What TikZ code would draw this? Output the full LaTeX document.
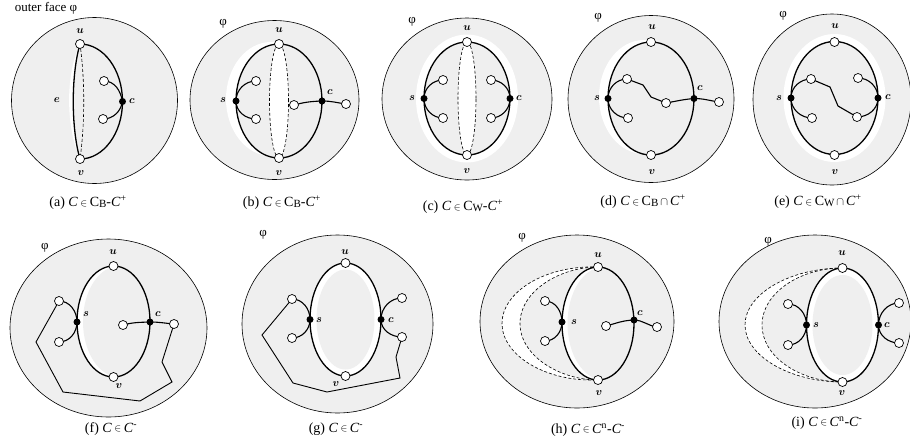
\documentclass[tikz,border=0pt]{standalone}
\usepackage{fontspec}
\setmainfont{Liberation Serif}
\usepackage{bm}
\definecolor{facegray}{RGB}{239,239,239}
\pgfdeclarelayer{bg}\pgfdeclarelayer{mid}\pgfsetlayers{bg,mid,main}
\newcommand{\elm}{\hspace{2.5pt}\raisebox{0.8pt}{\scalebox{0.72}{$\in$}}\hspace{2.5pt}}
\newcommand{\ecap}{\hspace{2pt}\raisebox{0.3pt}{\scalebox{0.8}{$\cap$}}\hspace{2pt}}
\newcommand{\sB}[1]{{\fontsize{11}{12}\selectfont\raisebox{-1pt}{#1}}}
\begin{document}
\begin{tikzpicture}[x=1pt,y=1pt,
 face/.style={draw=black,line width=0.6pt,fill=facegray},
 cyc/.style={draw=black,line width=1.3pt},
 edg/.style={draw=black,line width=1.1pt},
 walk/.style={draw=black,line width=0.9pt,line join=miter},
 dsh/.style={draw=black,line width=0.6pt,dash pattern=on 3pt off 2pt},
 wv/.style={circle,draw=black,fill=white,line width=0.7pt,inner sep=0pt,minimum size=9pt},
 bv/.style={circle,fill=black,inner sep=0pt,minimum size=7pt},
 lbl/.style={inner sep=0pt,font=\fontsize{10.5}{12}\selectfont},
 captxt/.style={inner sep=0pt,font=\fontsize{14}{16}\selectfont},
 phil/.style={inner sep=0pt,font=\fontsize{13}{15}\selectfont}]
\useasboundingbox (0,0) rectangle (910,-445);

\node[phil] (title) at (46,-8) {outer face φ};

% ================= (a)
\coordinate (a-o) at (94.5,-100.5);
\node[wv] (a-u) at (80,-44) {};
\node[wv] (a-v) at (80,-159) {};
\node[bv] (a-c) at (122.5,-101.5) {};
\node[wv] (a-p1) at (104,-81) {};
\node[wv] (a-p2) at (103,-119) {};
\node[lbl] (a-ul) at (80,-31) {$\bm{u}$};
\node[lbl] (a-vl) at (81,-173) {$\bm{v}$};
\node[lbl] (a-el) at (57,-100) {$\bm{e}$};
\node[lbl] (a-cl) at (132,-101) {$\bm{c}$};
\node[captxt] (a-cap) at (88,-203) {(a) \textit{C}\elm C\sB{B}-\textit{C}\textsuperscript{+}};
\begin{pgfonlayer}{bg}
 \draw[face] (a-o) circle[radius=83];
 \fill[white] (a-u.center) .. controls (65,-75) and (66,-128) .. (a-v.center) .. controls (71,-128) and (71,-75) .. cycle;
\end{pgfonlayer}
\begin{pgfonlayer}{mid}
 \draw[cyc] (a-u.center) arc[start angle=90,end angle=-90,x radius=42.5,y radius=57.5];
 \draw[cyc] (a-u.center) .. controls (71,-75) and (71,-128) .. (a-v.center);
 \draw[dsh] (a-u.center) .. controls (85,-80) and (85,-123) .. (a-v.center);
 \draw[edg] (a-c.center) to[out=100,in=0] (a-p1.center);
 \draw[edg] (a-c.center) to[out=-100,in=0] (a-p2.center);
\end{pgfonlayer}

% ================= (b)
\coordinate (b-o) at (274.5,-100);
\coordinate (b-i) at (279,-101);
\node[wv] (b-u) at (279,-44) {};
\node[wv] (b-v) at (279,-158) {};
\node[bv] (b-s) at (236,-101) {};
\node[bv] (b-c) at (322,-101) {};
\node[wv] (b-s1) at (256,-81) {};
\node[wv] (b-s2) at (256,-119) {};
\node[wv] (b-c1) at (294,-105) {};
\node[wv] (b-c2) at (346,-104) {};
\node[phil] (b-phi) at (223,-24) {φ};
\node[lbl] (b-ul) at (279,-30) {$\bm{u}$};
\node[lbl] (b-vl) at (279,-173) {$\bm{v}$};
\node[lbl] (b-sl) at (223,-100) {$\bm{s}$};
\node[lbl] (b-cl) at (330,-92) {$\bm{c}$};
\node[captxt] (b-cap) at (282,-203) {(b) \textit{C}\elm C\sB{B}-\textit{C}\textsuperscript{+}};
\begin{pgfonlayer}{bg}
 \draw[face] (b-o) ellipse[x radius=84.5,y radius=79.5];
 \fill[white] (271,-99) ellipse[x radius=45,y radius=57];
 \fill[facegray] (b-i) ellipse[x radius=43,y radius=57];
 \fill[white] (b-i) ellipse[x radius=9.5,y radius=57];
\end{pgfonlayer}
\begin{pgfonlayer}{mid}
 \draw[dsh] (b-i) ellipse[x radius=9.5,y radius=57];
 \draw[cyc] (b-i) ellipse[x radius=43,y radius=57];
 \draw[edg] (b-s.center) to[out=90,in=180] (b-s1.center);
 \draw[edg] (b-s.center) to[out=-90,in=180] (b-s2.center);
 \draw[edg] (b-c1.center) to[out=15,in=182] (b-c.center);
 \draw[edg] (b-c.center) to[out=0,in=172] (b-c2.center);
\end{pgfonlayer}

% ================= (c)
\coordinate (c-o) at (467,-99);
\coordinate (c-i) at (467,-98.5);
\node[wv] (c-u) at (467,-42) {};
\node[wv] (c-v) at (467,-155) {};
\node[bv] (c-s) at (424,-98.5) {};
\node[bv] (c-c) at (510,-98.5) {};
\node[wv] (c-s1) at (443,-80) {};
\node[wv] (c-s2) at (443,-118) {};
\node[wv] (c-c1) at (491,-80) {};
\node[wv] (c-c2) at (491,-118) {};
\node[phil] (c-phi) at (412,-22) {φ};
\node[lbl] (c-ul) at (467,-28) {$\bm{u}$};
\node[lbl] (c-vl) at (467,-171) {$\bm{v}$};
\node[lbl] (c-sl) at (412,-98) {$\bm{s}$};
\node[lbl] (c-cl) at (519,-98) {$\bm{c}$};
\node[captxt] (c-cap) at (463,-207) {(c) \textit{C}\elm C\sB{W}-\textit{C}\textsuperscript{+}};
\begin{pgfonlayer}{bg}
 \draw[face] (c-o) ellipse[x radius=85,y radius=81];
 \fill[white] (c-i) ellipse[x radius=51,y radius=64];
 \fill[facegray] (c-i) ellipse[x radius=43,y radius=56.5];
 \fill[white] (c-i) ellipse[x radius=9,y radius=56.5];
\end{pgfonlayer}
\begin{pgfonlayer}{mid}
 \draw[dsh] (c-i) ellipse[x radius=9,y radius=56.5];
 \draw[cyc] (c-i) ellipse[x radius=43,y radius=56.5];
 \draw[edg] (c-s.center) to[out=90,in=180] (c-s1.center);
 \draw[edg] (c-s.center) to[out=-90,in=180] (c-s2.center);
 \draw[edg] (c-c.center) to[out=90,in=0] (c-c1.center);
 \draw[edg] (c-c.center) to[out=-90,in=0] (c-c2.center);
\end{pgfonlayer}

% ================= (d)
\coordinate (d-o) at (651,-99);
\coordinate (d-i) at (651,-98.5);
\node[wv] (d-u) at (651,-42) {};
\node[wv] (d-v) at (651,-155) {};
\node[bv] (d-s) at (608,-98.5) {};
\node[bv] (d-c) at (694,-98.5) {};
\node[wv] (d-s1) at (627,-79) {};
\node[wv] (d-s2) at (628,-118) {};
\node[wv] (d-m) at (666,-103) {};
\node[wv] (d-c2) at (719,-102) {};
\coordinate (d-w1) at (643,-85);
\coordinate (d-w2) at (651,-97);
\node[phil] (d-phi) at (598,-18) {φ};
\node[lbl] (d-ul) at (652,-27) {$\bm{u}$};
\node[lbl] (d-vl) at (652,-172) {$\bm{v}$};
\node[lbl] (d-sl) at (597,-98) {$\bm{s}$};
\node[lbl] (d-cl) at (700,-88) {$\bm{c}$};
\node[captxt] (d-cap) at (643,-202) {(d) \textit{C}\elm C\sB{B}\ecap\textit{C}\textsuperscript{+}};
\begin{pgfonlayer}{bg}
 \draw[face] (d-o) ellipse[x radius=83,y radius=83.5];
 \fill[white] (644,-97) ellipse[x radius=45,y radius=57];
 \fill[facegray] (d-i) ellipse[x radius=43,y radius=56.5];
\end{pgfonlayer}
\begin{pgfonlayer}{mid}
 \draw[cyc] (d-i) ellipse[x radius=43,y radius=56.5];
 \draw[edg] (d-s.center) to[out=90,in=180] (d-s1.center);
 \draw[edg] (d-s.center) to[out=-90,in=180] (d-s2.center);
 \draw[edg] (d-s1.center) -- (d-w1) -- (d-w2) -- (d-m.center);
 \draw[edg] (d-m.center) to[out=10,in=185] (d-c.center);
 \draw[edg] (d-c.center) to[out=0,in=172] (d-c2.center);
\end{pgfonlayer}

% ================= (e)
\coordinate (e-o) at (832,-99.5);
\coordinate (e-i) at (834.5,-98);
\node[wv] (e-u) at (834.5,-42) {};
\node[wv] (e-v) at (834.5,-155) {};
\node[bv] (e-s) at (791,-98) {};
\node[bv] (e-c) at (878,-98) {};
\node[wv] (e-s1) at (811,-79) {};
\node[wv] (e-s2) at (812,-118) {};
\node[wv] (e-c1) at (858,-78) {};
\node[wv] (e-c2) at (857,-117) {};
\coordinate (e-w1) at (830,-87);
\coordinate (e-w2) at (838,-106);
\node[phil] (e-phi) at (783,-16) {φ};
\node[lbl] (e-ul) at (835,-26) {$\bm{u}$};
\node[lbl] (e-vl) at (835,-172) {$\bm{v}$};
\node[lbl] (e-sl) at (779,-98) {$\bm{s}$};
\node[lbl] (e-cl) at (888,-97) {$\bm{c}$};
\node[captxt] (e-cap) at (818,-202) {(e) \textit{C}\elm C\sB{W}\ecap\textit{C}\textsuperscript{+}};
\begin{pgfonlayer}{bg}
 \draw[face] (e-o) ellipse[x radius=79,y radius=85.5];
 \fill[white] (e-i) ellipse[x radius=51,y radius=64];
 \fill[facegray] (e-i) ellipse[x radius=43.5,y radius=56.5];
\end{pgfonlayer}
\begin{pgfonlayer}{mid}
 \draw[cyc] (e-i) ellipse[x radius=43.5,y radius=56.5];
 \draw[edg] (e-s.center) to[out=90,in=180] (e-s1.center);
 \draw[edg] (e-s.center) to[out=-90,in=180] (e-s2.center);
 \draw[edg] (e-c.center) to[out=90,in=0] (e-c1.center);
 \draw[edg] (e-c.center) to[out=-90,in=0] (e-c2.center);
 \draw[edg] (e-s1.center) -- (e-w1) -- (e-w2) -- (e-c2.center);
\end{pgfonlayer}

% ================= (f)
\coordinate (f-o) at (108.5,-328);
\coordinate (f-i) at (113.5,-321.5);
\node[wv] (f-u) at (113.5,-266) {};
\node[wv] (f-v) at (113.5,-377) {};
\node[bv] (f-s) at (77,-322) {};
\node[bv] (f-c) at (150,-322) {};
\node[wv] (f-s1) at (59,-301) {};
\node[wv] (f-s2) at (59,-342) {};
\node[wv] (f-c1) at (123,-325) {};
\node[wv] (f-c2) at (174,-324) {};
\coordinate (f-w1) at (36,-342);
\coordinate (f-w2) at (63,-392);
\coordinate (f-w3) at (140,-401);
\coordinate (f-w4) at (172,-382);
\coordinate (f-w5) at (162,-362);
\node[phil] (f-phi) at (45,-248) {φ};
\node[lbl] (f-ul) at (113,-252) {$\bm{u}$};
\node[lbl] (f-vl) at (119,-386) {$\bm{v}$};
\node[lbl] (f-sl) at (86,-314) {$\bm{s}$};
\node[lbl] (f-cl) at (158,-314) {$\bm{c}$};
\node[captxt] (f-cap) at (111,-429) {(f) \textit{C}\elm\textit{C}\textsuperscript{-}};
\begin{pgfonlayer}{bg}
 \draw[face] (f-o) ellipse[x radius=98.5,y radius=89];
 \fill[white] (f-i) ellipse[x radius=36.5,y radius=55.5];
 \begin{scope}
  \clip (f-i) ellipse[x radius=36.5,y radius=55.5];
  \fill[facegray] (119,-321.5) ellipse[x radius=36,y radius=55.5];
 \end{scope}
\end{pgfonlayer}
\begin{pgfonlayer}{mid}
 \draw[cyc] (f-i) ellipse[x radius=36.5,y radius=55.5];
 \draw[edg] (f-s.center) to[out=90,in=0] (f-s1.center);
 \draw[edg] (f-s.center) to[out=-90,in=0] (f-s2.center);
 \draw[edg] (f-c1.center) to[out=15,in=182] (f-c.center);
 \draw[edg] (f-c.center) to[out=0,in=175] (f-c2.center);
 \draw[walk] (f-s1.center) -- (f-w1) -- (f-w2) -- (f-w3) -- (f-w4) -- (f-w5) -- (f-c2.center);
\end{pgfonlayer}

% ================= (g)
\coordinate (g-o) at (337.5,-324);
\coordinate (g-i) at (345.5,-319.5);
\node[wv] (g-u) at (345.5,-263) {};
\node[wv] (g-v) at (345.5,-376) {};
\node[bv] (g-s) at (310,-319.5) {};
\node[bv] (g-c) at (381,-319.5) {};
\node[wv] (g-s1) at (292,-299) {};
\node[wv] (g-s2) at (292,-338) {};
\node[wv] (g-c1) at (402,-298) {};
\node[wv] (g-c2) at (402,-337) {};
\coordinate (g-w1) at (262,-335);
\coordinate (g-w2) at (293,-383);
\coordinate (g-w3) at (327,-392);
\coordinate (g-w4) at (400,-378);
\coordinate (g-w5) at (396,-357);
\node[phil] (g-phi) at (263,-235) {φ};
\node[lbl] (g-ul) at (345,-252) {$\bm{u}$};
\node[lbl] (g-vl) at (336,-384) {$\bm{v}$};
\node[lbl] (g-sl) at (319,-320) {$\bm{s}$};
\node[lbl] (g-cl) at (391,-320) {$\bm{c}$};
\node[captxt] (g-cap) at (336,-429) {(g) \textit{C}\elm\textit{C}\textsuperscript{-}};
\begin{pgfonlayer}{bg}
 \draw[face] (g-o) ellipse[x radius=95.5,y radius=89];
 \fill[white] (g-i) ellipse[x radius=35.5,y radius=56.5];
 \fill[facegray] (g-i) ellipse[x radius=29,y radius=50];
\end{pgfonlayer}
\begin{pgfonlayer}{mid}
 \draw[cyc] (g-i) ellipse[x radius=35.5,y radius=56.5];
 \draw[edg] (g-s.center) to[out=90,in=0] (g-s1.center);
 \draw[edg] (g-s.center) to[out=-90,in=0] (g-s2.center);
 \draw[edg] (g-c.center) to[out=90,in=180] (g-c1.center);
 \draw[edg] (g-c.center) to[out=-90,in=180] (g-c2.center);
 \draw[walk] (g-s1.center) -- (g-w1) -- (g-w2) -- (g-w3) -- (g-w4) -- (g-w5) -- (g-c2.center);
\end{pgfonlayer}

% ================= (h)
\coordinate (h-o) at (577,-321.5);
\coordinate (h-i) at (598,-323.5);
\node[wv] (h-u) at (598,-267) {};
\node[wv] (h-v) at (598,-380) {};
\node[bv] (h-s) at (562,-322) {};
\node[bv] (h-c) at (634,-320) {};
\node[wv] (h-s1) at (545,-301) {};
\node[wv] (h-s2) at (545,-341) {};
\node[wv] (h-c1) at (606,-326) {};
\node[wv] (h-c2) at (657,-327) {};
\node[phil] (h-phi) at (522,-238) {φ};
\node[lbl] (h-ul) at (598,-255) {$\bm{u}$};
\node[lbl] (h-vl) at (599,-393) {$\bm{v}$};
\node[lbl] (h-sl) at (574,-322) {$\bm{s}$};
\node[lbl] (h-cl) at (640,-313) {$\bm{c}$};
\node[captxt] (h-cap) at (588,-430) {(h) \textit{C}\elm\textit{C}\textsuperscript{n}-\textit{C}\textsuperscript{-}};
\begin{pgfonlayer}{bg}
 \draw[face] (h-o) ellipse[x radius=97,y radius=86.5];
 \fill[white] (h-u.center) .. controls (545,-265) and (502,-292) .. (502,-323.5) .. controls (502,-355) and (545,-382) .. (h-v.center)
   .. controls (560,-380) and (520,-356) .. (520,-323.5) .. controls (520,-291) and (560,-267) .. cycle;
 \fill[white] (h-i) ellipse[x radius=36,y radius=56.5];
 \begin{scope}
  \clip (h-i) ellipse[x radius=36,y radius=56.5];
  \fill[facegray] (603.5,-323.5) ellipse[x radius=36,y radius=56.5];
 \end{scope}
\end{pgfonlayer}
\begin{pgfonlayer}{mid}
 \draw[dsh] (h-u.center) .. controls (545,-265) and (502,-292) .. (502,-323.5) .. controls (502,-355) and (545,-382) .. (h-v.center);
 \draw[dsh] (h-u.center) .. controls (560,-267) and (520,-291) .. (520,-323.5) .. controls (520,-356) and (560,-380) .. (h-v.center);
 \draw[cyc] (h-i) ellipse[x radius=36,y radius=56.5];
 \draw[edg] (h-s.center) to[out=90,in=0] (h-s1.center);
 \draw[edg] (h-s.center) to[out=-90,in=0] (h-s2.center);
 \draw[edg] (h-c1.center) to[out=15,in=182] (h-c.center);
 \draw[edg] (h-c.center) to[out=-2,in=172] (h-c2.center);
\end{pgfonlayer}

% ================= (i)
\coordinate (i-o) at (815,-321.5);
\coordinate (i-i) at (842.5,-325);
\node[wv] (i-u) at (842.5,-268) {};
\node[wv] (i-v) at (842.5,-382) {};
\node[bv] (i-s) at (806.5,-325) {};
\node[bv] (i-c) at (878.5,-325) {};
\node[wv] (i-s1) at (788,-304) {};
\node[wv] (i-s2) at (788,-345) {};
\node[wv] (i-c1) at (899,-303) {};
\node[wv] (i-c2) at (899,-343) {};
\node[phil] (i-phi) at (768,-242) {φ};
\node[lbl] (i-ul) at (842,-253) {$\bm{u}$};
\node[lbl] (i-vl) at (842,-393) {$\bm{v}$};
\node[lbl] (i-sl) at (816,-325) {$\bm{s}$};
\node[lbl] (i-cl) at (887,-325) {$\bm{c}$};
\node[captxt] (i-cap) at (827,-423) {(i) \textit{C}\elm\textit{C}\textsuperscript{n}-\textit{C}\textsuperscript{-}};
\begin{pgfonlayer}{bg}
 \draw[face] (i-o) ellipse[x radius=96,y radius=86.5];
 \fill[white] (i-u.center) .. controls (790,-268) and (745,-294) .. (745,-325) .. controls (745,-356) and (790,-382) .. (i-v.center)
   .. controls (800,-382) and (762,-357) .. (762,-325) .. controls (762,-293) and (800,-268) .. cycle;
 \fill[white] (i-i) ellipse[x radius=36,y radius=57];
 \fill[facegray] (i-i) ellipse[x radius=30,y radius=50];
\end{pgfonlayer}
\begin{pgfonlayer}{mid}
 \draw[dsh] (i-u.center) .. controls (790,-268) and (745,-294) .. (745,-325) .. controls (745,-356) and (790,-382) .. (i-v.center);
 \draw[dsh] (i-u.center) .. controls (800,-268) and (762,-293) .. (762,-325) .. controls (762,-357) and (800,-382) .. (i-v.center);
 \draw[cyc] (i-i) ellipse[x radius=36,y radius=57];
 \draw[edg] (i-s.center) to[out=90,in=0] (i-s1.center);
 \draw[edg] (i-s.center) to[out=-90,in=0] (i-s2.center);
 \draw[edg] (i-c.center) to[out=90,in=180] (i-c1.center);
 \draw[edg] (i-c.center) to[out=-90,in=180] (i-c2.center);
\end{pgfonlayer}
\end{tikzpicture}
\end{document}
